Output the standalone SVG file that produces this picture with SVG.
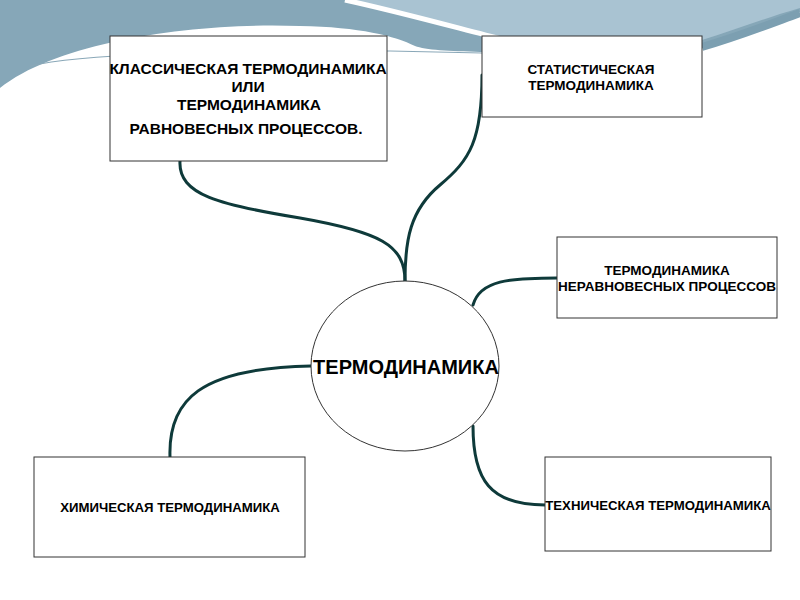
<svg xmlns="http://www.w3.org/2000/svg" width="800" height="600" viewBox="0 0 800 600">
<style>
.box{fill:#ffffff;stroke:#333333;stroke-width:1}
.t{font-family:"Liberation Sans",Arial,sans-serif;font-weight:bold;fill:#000000;text-anchor:middle}
.c{fill:none;stroke:#0e3a3a;stroke-width:3;stroke-linecap:round}
</style>
<rect width="800" height="600" fill="#ffffff"/>
<g id="background">
<path d="M0,0 H800 V12 C770,26 735,40 702,48 L480,52 C450,51 425,50 415,46 C395,36 360,27 300,26 C200,22 60,40 0,88 Z" fill="#86a7b8"/>
<path d="M352,0 H800 V8 C765,18 735,30 702,40 L500,38 C450,25 400,10 352,0 Z" fill="#a9c3d2"/>
<path d="M345,0 C400,12 450,26 505,40" fill="none" stroke="#ffffff" stroke-width="5"/>
<path d="M702,47 C740,36 770,24 800,13" fill="none" stroke="#7c9fb1" stroke-width="8"/>
<path d="M30,66 C80,54 200,51 390,51 L482,53" fill="none" stroke="#8aa8b8" stroke-width="1.2"/>
</g>
<g id="connectors">
<path class="c" d="M180,161 C178,195 220,205 300,218 C380,232 405,245 405,281"/>
<path class="c" d="M482,75 C482,140 470,160 440,185 C410,210 405,240 405,281"/>
<path class="c" d="M557,278 C510,278 480,280 473,305"/>
<path class="c" d="M170,457 C168,400 200,368 311,366"/>
<path class="c" d="M473,426 C473,480 490,505 545,505"/>
</g>
<g id="node-classic">
<rect class="box" x="110" y="36" width="277" height="125"/>
<text class="t" font-size="15.5" x="248" y="74">КЛАССИЧЕСКАЯ ТЕРМОДИНАМИКА</text>
<text class="t" font-size="15.5" x="248" y="92">ИЛИ</text>
<text class="t" font-size="15.5" x="249" y="110">ТЕРМОДИНАМИКА</text>
<text class="t" font-size="15.5" x="246" y="134">РАВНОВЕСНЫХ ПРОЦЕССОВ.</text>
</g>
<g id="node-statistical">
<rect class="box" x="482" y="36" width="220" height="81"/>
<text class="t" font-size="13.5" x="591" y="74">СТАТИСТИЧЕСКАЯ</text>
<text class="t" font-size="13.5" x="591" y="90">ТЕРМОДИНАМИКА</text>
</g>
<g id="node-nonequilibrium">
<rect class="box" x="557" y="237" width="220" height="81"/>
<text class="t" font-size="13.5" x="667" y="275">ТЕРМОДИНАМИКА</text>
<text class="t" font-size="13.5" x="667" y="291">НЕРАВНОВЕСНЫХ ПРОЦЕССОВ</text>
</g>
<g id="node-center">
<ellipse cx="405" cy="366" rx="94" ry="85" fill="#ffffff" stroke="#333333" stroke-width="1"/>
<text class="t" font-size="20" x="406" y="374">ТЕРМОДИНАМИКА</text>
</g>
<g id="node-chemical">
<rect class="box" x="34" y="457" width="271" height="100"/>
<text class="t" font-size="13.2" x="170" y="512">ХИМИЧЕСКАЯ ТЕРМОДИНАМИКА</text>
</g>
<g id="node-technical">
<rect class="box" x="545" y="457" width="226" height="94"/>
<text class="t" font-size="13.2" x="658" y="510">ТЕХНИЧЕСКАЯ ТЕРМОДИНАМИКА</text>
</g>
</svg>
